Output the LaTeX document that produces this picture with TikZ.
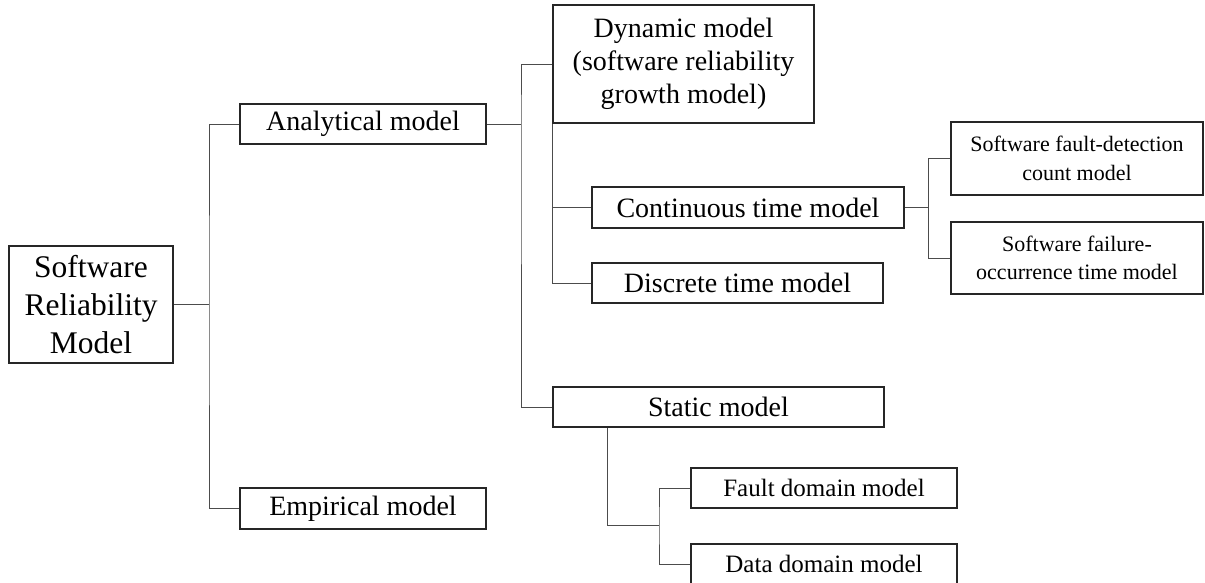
\documentclass[tikz,border=0pt]{standalone}
\usepackage{fontspec}
\setmainfont{Liberation Serif}

\begin{document}
\begin{tikzpicture}[x=1pt,y=-1pt,
  box/.style={draw=black!85,line width=1.3pt,inner sep=0pt,align=center},
  big/.style={box,font=\fontsize{31.5}{38}\selectfont},
  mid/.style={box,font=\fontsize{28}{33}\selectfont},
  low/.style={box,font=\fontsize{25}{30}\selectfont},
  tiny/.style={box,font=\fontsize{22}{28.5}\selectfont},
  link/.style={draw=black!70,line width=1pt}]
\useasboundingbox (0,0) rectangle (1205,582);
\clip (0,0) rectangle (1205,582);

\node[big,minimum width=164,minimum height=117] (srm) at (91,304.5) {Software\\Reliability\\Model};
\node[mid,minimum width=246,minimum height=40] (ana) at (363,124) {Analytical model};
\node[mid,minimum width=246,minimum height=41] (emp) at (363,508.5) {Empirical model};
\node[mid,minimum width=261,minimum height=118] (dyn) at (683.5,64) {Dynamic model\\(software reliability\\growth model)};
\node[mid,minimum width=312,minimum height=41] (con) at (748,207.5) {Continuous time model};
\node[mid,minimum width=291,minimum height=40] (dis) at (737.5,283) {Discrete time model};
\node[tiny,minimum width=252,minimum height=73] (fd) at (1077,158.5) {Software fault-detection\\count model};
\node[tiny,minimum width=252,minimum height=72] (fo) at (1077,258) {Software failure-\\occurrence time model};
\node[mid,minimum width=331,minimum height=40] (sta) at (718.5,407) {Static model};
\node[low,minimum width=266,minimum height=40] (fau) at (824,488) {Fault domain model};
\node[low,minimum width=266,minimum height=40] (dat) at (824,564) {Data domain model};

\coordinate (j1) at (209,304.5);
\coordinate (j2) at (521,124);
\coordinate (j3) at (928,207.5);
\coordinate (j4) at (659,525);

\draw[link] (srm.east) -- (j1);
\draw[link] (ana.west) -| (j1) |- (emp.west);
\draw[link] (ana.east) -- (j2);
\draw[link] (dyn.west) -| (j2) |- (sta.west);
\draw[link] (dyn.south west) |- (dis.west);
\draw[link] (dyn.south west |- con.west) -- (con.west);
\draw[link] (con.east) -- (j3);
\draw[link] (fd.west) -| (j3) |- (fo.west);
\draw[link] ([xshift=55pt]sta.south west) |- (j4);
\draw[link] (fau.west) -| (j4) |- (dat.west);
\end{tikzpicture}
\end{document}
